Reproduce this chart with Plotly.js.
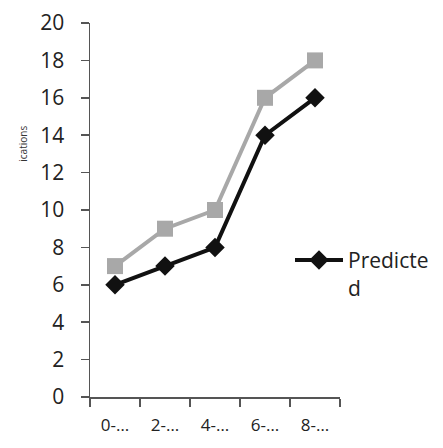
<!DOCTYPE html>
<html><head><meta charset="utf-8">
<script src="https://cdn.plot.ly/plotly-3.0.1.min.js"></script>
<style>html,body{margin:0;padding:0;background:#fff;}#chart{width:443px;height:448px;}</style>
</head><body><div id="chart"></div>
<script>
const categories = ["0-…", "2-…", "4-…", "6-…", "8-…"];
const observed = [7, 9, 10, 16, 18];
const predicted = [6, 7, 8, 14, 16];
const yTicks = [0, 2, 4, 6, 8, 10, 12, 14, 16, 18, 20];
const yTitle = 'ications';

const traces = [
  {x: categories, y: observed, type: 'scatter', mode: 'lines+markers', name: 'Observed',
   showlegend: false,
   line: {color: '#a8a8a8', width: 4},
   marker: {symbol: 'square', size: 16, color: '#a8a8a8'}},
  {x: categories, y: predicted, type: 'scatter', mode: 'lines+markers', name: 'Predicte<br>d',
   line: {color: '#111111', width: 4},
   marker: {symbol: 'diamond', size: 15, color: '#111111'}}
];

const layout = {
  width: 443, height: 448,
  margin: {l: 90, r: 103, t: 23, b: 51, autoexpand: false},
  paper_bgcolor: '#fff', plot_bgcolor: '#fff',
  font: {family: 'Open Sans, sans-serif', color: '#222'},
  showlegend: true,
  legend: {x: 0.80, y: 0.42, xanchor: 'left', yanchor: 'top', valign: 'top', itemwidth: 48,
           bgcolor: 'rgba(0,0,0,0)',
           font: {size: 21, color: '#222', family: 'Open Sans, sans-serif'}},
  xaxis: {type: 'category', showgrid: false, zeroline: false, showline: true, automargin: false,
          linecolor: '#555', linewidth: 1.5, ticks: 'outside', tickson: 'boundaries',
          ticklen: 8, tickcolor: '#555', tickwidth: 1.5, tickangle: 0, ticklabelstandoff: 12,
          tickfont: {size: 17, color: '#222'}, range: [-0.5, 4.5]},
  yaxis: {range: [0, 20], tickvals: yTicks, showgrid: false, zeroline: false, showline: true,
          automargin: false,
          linecolor: '#555', linewidth: 1.5, ticks: 'outside', ticklen: 8, tickcolor: '#555',
          tickwidth: 1.5, ticklabelstandoff: 12,
          tickfont: {size: 21, color: '#222', family: 'Open Sans, sans-serif'}},
  annotations: [{text: yTitle, xref: 'paper', yref: 'paper', x: -0.305, y: 0.73,
                 textangle: -90, showarrow: false, font: {size: 10, color: '#333'}}]
};

Plotly.newPlot('chart', traces, layout, {displayModeBar: false, staticPlot: true});
</script>
</body></html>
